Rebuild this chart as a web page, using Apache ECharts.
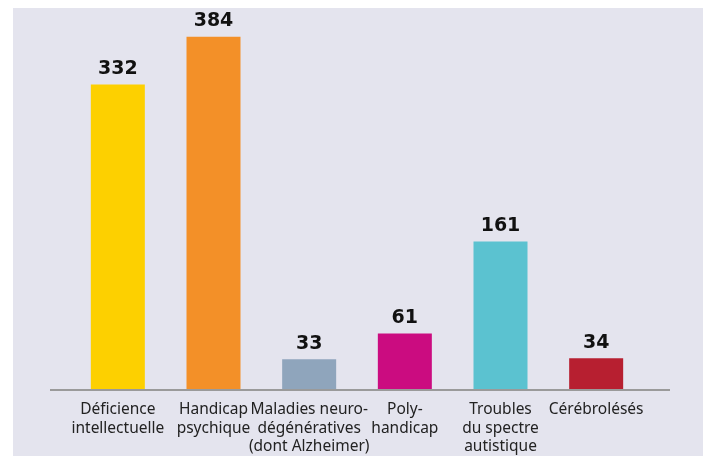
<!DOCTYPE html>
<html>
<head>
<meta charset="utf-8">
<script src="https://cdn.jsdelivr.net/npm/echarts@6/dist/echarts.min.js"></script>
<style>
  html, body { margin: 0; padding: 0; background: #ffffff; }
  #main { position: absolute; left: 13px; top: 8px; width: 690px; height: 448px; }
</style>
</head>
<body>
<div id="main"></div>
<script>
// categories and values
let categories = ['Déficience\nintellectuelle', 'Handicap\npsychique', 'Maladies neuro-\ndégénératives\n(dont Alzheimer)', 'Poly-\nhandicap', 'Troubles\ndu spectre\nautistique', 'Cérébrolésés']
let values = [332, 384, 33, 61, 161, 34]
let barColors = ['#fdd000', '#f39028', '#8fa5bc', '#cb0c80', '#5bc2d0', '#b71f30']

let myChart = echarts.init(document.getElementById('main'))
let option = {
    backgroundColor: '#e4e4ee',
    animation: false,
    grid: {
        top: 14,
        left: 57,
        right: 59,
        bottom: 66,
    },
    graphic: [
        {
            // long baseline, runs past the outer bars
            type: 'line',
            shape: { x1: 37, y1: 382, x2: 657, y2: 382 },
            style: { stroke: '#9a9a9a', lineWidth: 2 },
            z: 10,
        },
    ],
    xAxis: {
        type: 'category',
        data: categories,
        axisLine: { show: false },
        axisTick: { show: false },
        axisLabel: {
            interval: 0,
            margin: 11,
            color: '#222',
            fontSize: 15.5,
            lineHeight: 18.5,
            fontFamily: 'Noto Sans',
        },
    },
    yAxis: {
        type: 'value',
        min: 0,
        max: 400,
        show: false,
        splitLine: { show: false },
    },
    series: [
        {
            type: 'bar',
            barWidth: 54,
            data: values.map(function (v, i) {
                return { value: v, itemStyle: { color: barColors[i] } }
            }),
            label: {
                show: true,
                position: 'top',
                distance: 6,
                color: '#111',
                fontSize: 19,
                fontWeight: 'bold',
                fontFamily: 'DejaVu Sans',
            },
        },
    ],
}
myChart.setOption(option)
</script>
</body>
</html>
